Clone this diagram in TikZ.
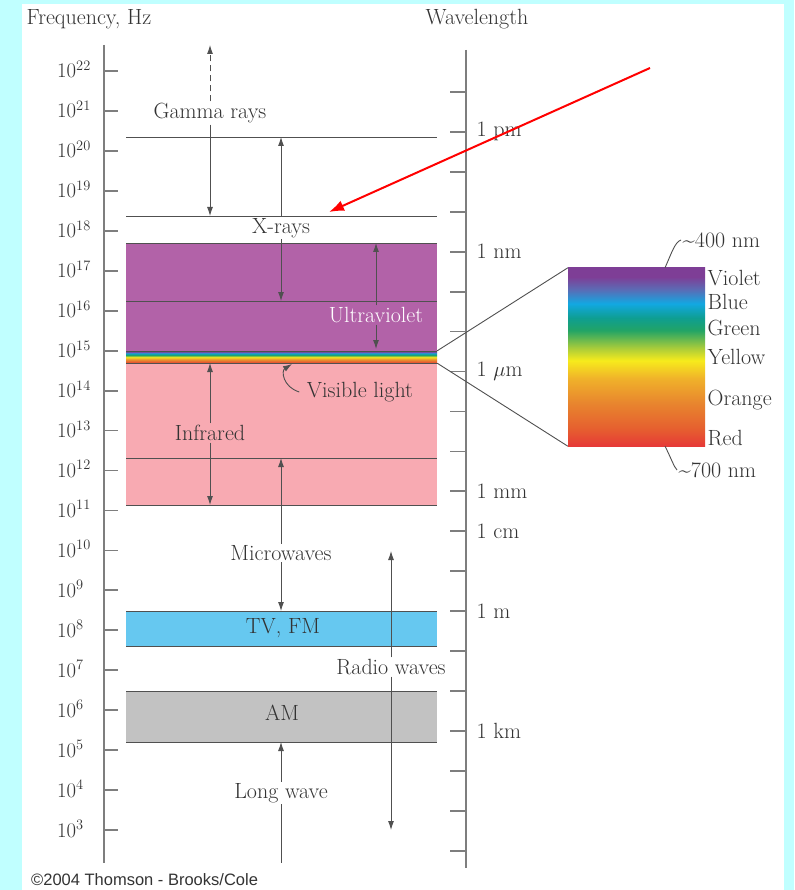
\documentclass[tikz,border=0pt]{standalone}
\usepackage{fontspec}
\newfontfamily\cpfont{Liberation Sans}
\usepackage{xcolor}
\definecolor{bgcyan}{HTML}{C0FFFF}
\definecolor{txtgray}{HTML}{333333}
\definecolor{linegray}{HTML}{505050}
\definecolor{axgray}{HTML}{7E7E7E}
\definecolor{uvpurple}{HTML}{B262A8}
\definecolor{irpink}{HTML}{F8AAB2}
\definecolor{tvblue}{HTML}{66C8F0}
\definecolor{amgray}{HTML}{C2C2C2}
\definecolor{sviolet}{HTML}{7E3E96}
\definecolor{sblviol}{HTML}{5B6BB5}
\definecolor{sblue}{HTML}{12A8E2}
\definecolor{steal}{HTML}{0E9E92}
\definecolor{sgreen}{HTML}{22A466}
\definecolor{sygreen}{HTML}{A9CC3A}
\definecolor{syellow}{HTML}{F7EB1C}
\definecolor{sorye}{HTML}{F0B22A}
\definecolor{sorange}{HTML}{E8852E}
\definecolor{sredor}{HTML}{E6602F}
\definecolor{sred}{HTML}{E63A37}
\usepackage{tikz}
\usetikzlibrary{arrows.meta, positioning}
\pgfdeclareverticalshading{visspec}{100bp}{color(0bp)=(sred); color(25bp)=(sred);
  color(30bp)=(sredor); color(37bp)=(sorange); color(44bp)=(sorye); color(49bp)=(syellow);
  color(52.5bp)=(sygreen); color(57.5bp)=(sgreen); color(61bp)=(steal); color(65bp)=(sblue);
  color(69bp)=(sblviol); color(72.5bp)=(sviolet); color(75bp)=(sviolet); color(100bp)=(sviolet)}

\begin{document}
\begin{tikzpicture}[x=1pt, y=-1pt,
    lbl/.style={font=\fontsize{22}{24}\selectfont, text=txtgray, inner sep=1.5pt},
    ticklbl/.style={font=\fontsize{21}{24}\selectfont, text=txtgray, inner sep=0pt, anchor=base west},
    bandline/.style={draw=linegray, line width=0.8pt},
    axisline/.style={draw=axgray, line width=1.8pt},
    arr/.style={draw=linegray, line width=0.9pt, -{Latex[length=9pt,width=6pt]}}]
  \fill[bgcyan] (0,0) rectangle (794,890);
  \fill[white] (22,4) rectangle (784,890);
  \useasboundingbox (0,0) rectangle (794,890);

  \node[lbl, anchor=west] (freq) at (25,19) {Frequency, Hz};
  \node[lbl, anchor=west] (wave) at (424,19) {Wavelength};

  \draw[axisline] (104,45) -- (104,863);
  \foreach \n in {3,...,22} {
    \draw[axisline] (104,{71+(22-\n)*39.95}) -- ++(14,0);
    \node[ticklbl] (f\n) at (57,{78+(22-\n)*39.95}) {$10^{\n}$};
  }
  \draw[axisline] (466,50) -- (466,868);
  \foreach \k in {-13,...,6}
    \draw[axisline] (466,{71+(13.523+\k)*39.95}) -- ++(-16,0);
  \foreach \k/\t/\nm in {-12/1 pm/lpm, -9/1 nm/lnm, -6/1 $\mu$m/lum, -3/1 mm/lmm,
      -2/1 cm/lcm, 0/1 m/lm, 3/1 km/lkm}
    \node[lbl, anchor=west] (\nm) at (475,{71+(13.523+\k)*39.95}) {\t};

  \fill[uvpurple] (126,243) rectangle (437,351);
  \fill[irpink] (126,363) rectangle (437,505);
  \fill[tvblue] (126,611) rectangle (437,646);
  \fill[amgray] (126,691) rectangle (437,742);
  \node[shade, shading=visspec, minimum width=311, minimum height=12, inner sep=0pt] (vstrip) at (281.5,357) {};
  \foreach \y in {137,216,243,301,351,363,458,505,611,646,691,742}
    \draw[bandline] (126,\y) -- (437,\y);

  \node[shade, shading=visspec, minimum width=137, minimum height=178, inner sep=0pt] (spec) at (636.5,357) {};
  \draw[linegray, line width=0.9pt] (vstrip.north east) -- (spec.north west);
  \draw[linegray, line width=0.9pt] (vstrip.south east) -- (spec.south west);
  \node[lbl, anchor=west] (violet) at (706,278) {Violet};
  \node[lbl, anchor=west] (blue) at (706,302) {Blue};
  \node[lbl, anchor=west] (green) at (706,328) {Green};
  \node[lbl, anchor=west] (yellow) at (706,357) {Yellow};
  \node[lbl, anchor=west] (orange) at (706,400) {Orange};
  \node[lbl, anchor=west] (red) at (706,438) {Red};
  \node[lbl, anchor=west] (n400) at (681,240) {\textasciitilde 400 nm};
  \node[lbl, anchor=west] (n700) at (677,470) {\textasciitilde 700 nm};
  \draw[linegray, line width=0.9pt] ([xshift=28.5pt]spec.north) .. controls (672,252) and (675,242) .. (n400.west);
  \draw[linegray, line width=0.9pt] ([xshift=28.5pt]spec.south) .. controls (671,458) and (674,467) .. (n700.west);

  \coordinate (gup) at (210,45);
  \coordinate (gdown) at (210,216);
  \coordinate (xup) at (281,137);
  \coordinate (xdown) at (281,301);
  \coordinate (uvup) at (376,243);
  \coordinate (uvdown) at (376,349);
  \coordinate (irup) at (210,363);
  \coordinate (irdown) at (210,505);
  \coordinate (mwup) at (281,458);
  \coordinate (mwdown) at (281,611);
  \coordinate (rwup) at (391,551);
  \coordinate (rwdown) at (391,830);
  \coordinate (lwup) at (281,742);
  \coordinate (lwend) at (281,863);
  \coordinate (vtip) at (292,364);

  \node[lbl] (gamma) at (210,113) {Gamma rays};
  \draw[arr, dash pattern=on 6pt off 4pt] (gamma) -- (gup);
  \draw[arr] (gamma) -- (gdown);
  \node[lbl] (xray) at (281,228) {X-rays};
  \draw[arr] (xray) -- (xup);
  \draw[arr] (xray) -- (xdown);
  \node[lbl, text=white] (uv) at (376,315) {Ultraviolet};
  \draw[arr] (uv) -- (uvup);
  \draw[arr] (uv) -- (uvdown);
  \node[lbl] (vislbl) at (360,392) {Visible light};
  \draw[arr] ([xshift=-6pt]vislbl.west) .. controls (283,387) and (281,371) .. (vtip);
  \node[lbl, fill=irpink] (ir) at (210,433) {Infrared};
  \draw[arr] (ir) -- (irup);
  \draw[arr] (ir) -- (irdown);
  \node[lbl] (mw) at (281,553) {Microwaves};
  \draw[arr] (mw) -- (mwup);
  \draw[arr] (mw) -- (mwdown);
  \node[lbl] (tvfm) at (283,628) {TV, FM};
  \node[lbl] (rw) at (391,667) {Radio waves};
  \draw[arr] (rw) -- (rwup);
  \draw[arr] (rw) -- (rwdown);
  \node[lbl] (am) at (282,713) {AM};
  \node[lbl] (lw) at (281,793) {Long wave};
  \draw[arr] (lw) -- (lwup);
  \draw[linegray, line width=0.9pt] (lw) -- (lwend);

  \coordinate (redstart) at (650,68);
  \coordinate (redtip) at (329,212);
  \draw[red, line width=2pt, -{Latex[length=15pt,width=11pt]}] (redstart) -- (redtip);

  \node[anchor=west, font=\cpfont\fontsize{16.5}{18}\selectfont, text=txtgray, inner sep=0pt] (copy) at (31,880) {\textcopyright 2004 Thomson - Brooks/Cole};
\end{tikzpicture}
\end{document}
